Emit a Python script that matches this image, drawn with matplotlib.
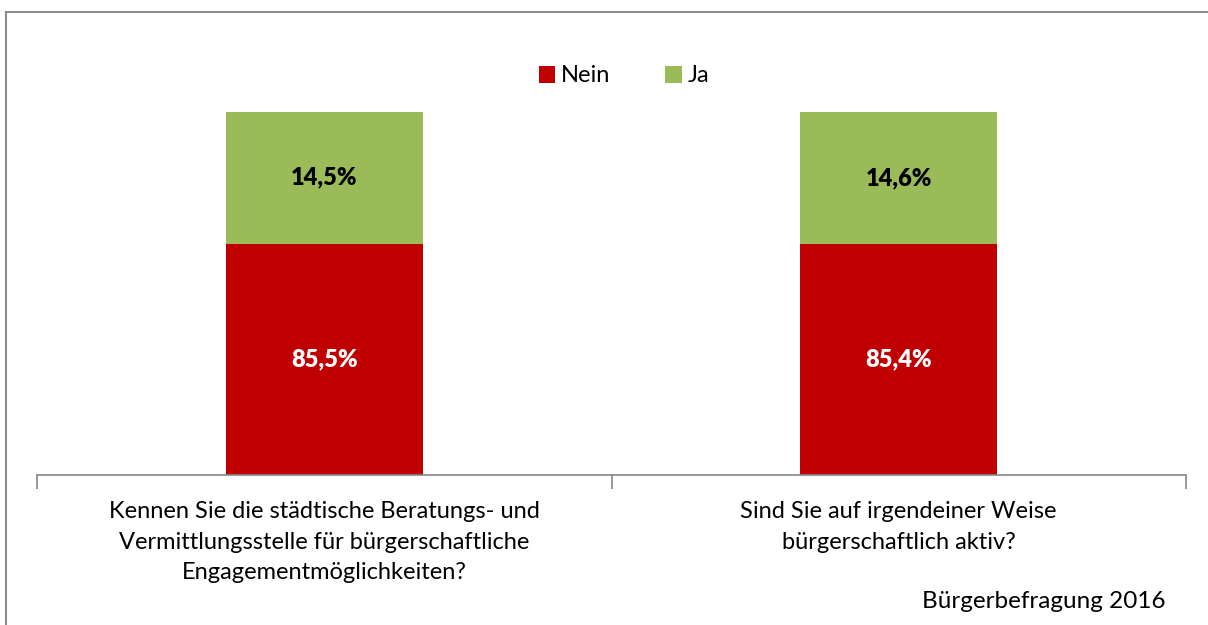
import matplotlib
matplotlib.use("Agg")
import matplotlib.pyplot as plt
from matplotlib.lines import Line2D

plt.rcParams['font.family'] = ['Lato', 'DejaVu Sans']

categories = [
    "Kennen Sie die städtische Beratungs- und\nVermittlungsstelle für bürgerschaftliche\nEngagementmöglichkeiten?",
    "Sind Sie auf irgendeiner Weise\nbürgerschaftlich aktiv?",
]
nein = [85.5, 85.4]
ja = [14.5, 14.6]
nein_labels = ["85,5%", "85,4%"]
ja_labels = ["14,5%", "14,6%"]
series_names = ["Nein", "Ja"]
source_note = "Bürgerbefragung 2016"

RED = "#C00000"
GREEN = "#9BBB59"
GRAY = "#868686"

W, H = 1208, 625
fig = plt.figure(figsize=(W / 100, H / 100), dpi=100)

# frame around the chart area
fig.add_artist(Line2D([5.5 / W, 5.5 / W], [0, 1 - 11.5 / H], transform=fig.transFigure,
                      color="#8c8c8c", lw=1.5))
fig.add_artist(Line2D([5.5 / W, 1], [1 - 11.5 / H, 1 - 11.5 / H], transform=fig.transFigure,
                      color="#8c8c8c", lw=1.5))

ax = fig.add_axes([37 / W, 150 / H, 1149 / W, 363 / H])
x = list(range(len(categories)))
width = 0.343
b1 = ax.bar(x, nein, width, color=RED, label=series_names[0])
b2 = ax.bar(x, ja, width, bottom=nein, color=GREEN, label=series_names[1])

ymin, ymax = 60, 100
ax.set_ylim(ymin, ymax)
ax.set_xlim(-0.5, len(categories) - 0.5)

for i in x:
    ax.text(i, (ymin + nein[i]) / 2, nein_labels[i], ha="center", va="center",
            color="white", fontsize=17, fontweight="heavy")
    ax.text(i, nein[i] + ja[i] / 2, ja_labels[i], ha="center", va="center",
            color="black", fontsize=17, fontweight="heavy")

for s in ["top", "right", "left"]:
    ax.spines[s].set_visible(False)
ax.spines["bottom"].set_color(GRAY)
ax.spines["bottom"].set_linewidth(1.2)
ax.set_yticks([])

ax.set_xticks([-0.5 + k for k in range(len(categories) + 1)])
ax.set_xticklabels([])
ax.tick_params(axis="x", direction="out", length=10, width=1.2, color=GRAY)

for i, c in enumerate(categories):
    ax.text(i, -0.073, c, transform=ax.get_xaxis_transform(), ha="center", va="top",
            fontsize=17, linespacing=1.55, color="black")

leg = fig.legend(handles=[b1, b2], labels=series_names, loc="center",
                 bbox_to_anchor=(624 / W, 1 - 76 / H), ncol=2, frameon=False,
                 fontsize=17, handlelength=0.7, handleheight=0.7, handletextpad=0.25,
                 columnspacing=2.3)

fig.text(1165 / W, 1 - 602 / H, source_note, ha="right", va="center", fontsize=17.5)

fig.savefig("out.png", dpi=100, facecolor="white")
